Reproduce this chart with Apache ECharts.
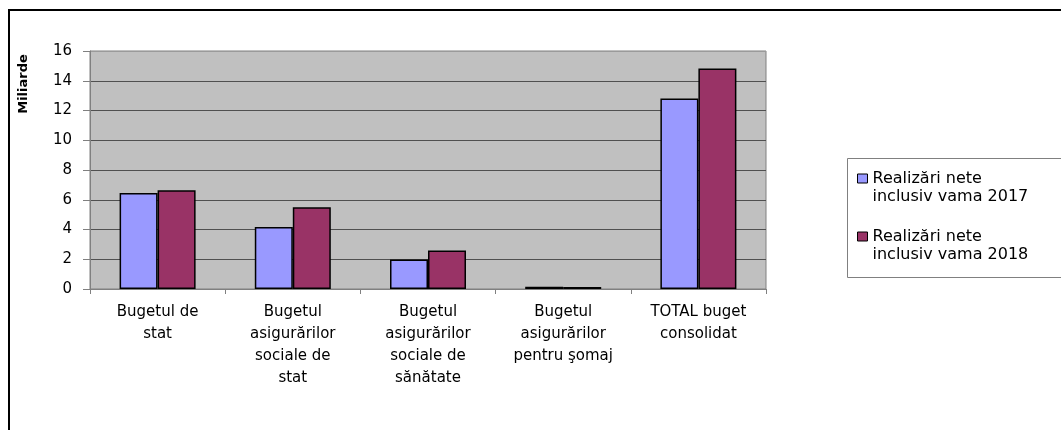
<!DOCTYPE html>
<html>
<head>
<meta charset="utf-8">
<script src="https://cdn.jsdelivr.net/npm/echarts@6/dist/echarts.min.js"></script>
<style>
    html, body { margin: 0; padding: 0; background: #fff; }
    #chart { width: 1061px; height: 430px; }
</style>
</head>
<body>
<div id="chart"></div>
<script>
var categories = [
    'Bugetul de\nstat',
    'Bugetul\nasigurărilor\nsociale de\nstat',
    'Bugetul\nasigurărilor\nsociale de\nsănătate',
    'Bugetul\nasigurărilor\npentru şomaj',
    'TOTAL buget\nconsolidat'
];
var vama2017 = [6.45, 4.17, 1.98, 0.15, 12.8];
var vama2018 = [6.64, 5.49, 2.58, 0.14, 14.82];
var seriesNames = ['Realizări nete\ninclusiv vama 2017', 'Realizări nete\ninclusiv vama 2018'];
var yTicks = [0, 2, 4, 6, 8, 10, 12, 14, 16];

(function () {
    var font = 'DejaVu Sans';
    var myChart = echarts.init(document.getElementById('chart'));

    // darker grid lines, the top one (16) lighter like the plot border
    var gridColors = yTicks.map(function (v, i) {
        return i === yTicks.length - 1 ? '#9a9a9a' : '#505050';
    });

    myChart.setOption({
        animation: false,
        backgroundColor: '#fff',
        textStyle: { fontFamily: font },
        graphic: [
            {
                type: 'rect',
                shape: { x: 9, y: 10, width: 1200, height: 600 },
                style: { fill: 'none', stroke: '#000', lineWidth: 2 }
            },
            {
                type: 'rect',
                shape: { x: 847.5, y: 158.5, width: 300, height: 119 },
                style: { fill: 'none', stroke: '#808080', lineWidth: 1 }
            },
            {
                type: 'text',
                x: 24,
                y: 84,
                rotation: Math.PI / 2,
                style: {
                    text: 'Miliarde',
                    fontFamily: font,
                    fontWeight: 'bold',
                    fontSize: 13,
                    fill: '#000',
                    textAlign: 'center',
                    textVerticalAlign: 'middle'
                }
            }
        ],
        grid: {
            left: 90,
            right: 295,
            top: 51,
            bottom: 141,
            show: true,
            backgroundColor: '#c0c0c0',
            borderColor: '#808080',
            borderWidth: 1
        },
        legend: {
            orient: 'vertical',
            left: 857,
            top: 151.5,
            padding: 0,
            itemGap: 4,
            itemWidth: 10,
            itemHeight: 9,
            icon: 'rect',
            itemStyle: { borderColor: '#000', borderWidth: 1 },
            // blank first line so the icon sits beside the first text line
            formatter: function (name) {
                return ' \n' + name;
            },
            textStyle: {
                fontFamily: font,
                fontSize: 16,
                lineHeight: 18,
                color: '#000'
            },
            data: seriesNames
        },
        xAxis: {
            type: 'category',
            data: categories,
            axisLine: { lineStyle: { color: '#808080', width: 1 } },
            axisTick: { show: true, length: 5, lineStyle: { color: '#808080' } },
            axisLabel: {
                fontFamily: font,
                fontSize: 15,
                lineHeight: 22,
                color: '#000',
                margin: 12,
                interval: 0
            },
            splitLine: { show: false }
        },
        yAxis: {
            type: 'value',
            min: 0,
            max: 16,
            interval: 2,
            axisLine: { show: true, lineStyle: { color: '#808080', width: 1 } },
            axisTick: { show: true, length: 7, lineStyle: { color: '#808080' } },
            axisLabel: {
                fontFamily: font,
                fontSize: 15,
                color: '#000',
                margin: 18
            },
            splitLine: { show: true, lineStyle: { color: gridColors, width: 1 } }
        },
        series: [
            {
                name: seriesNames[0],
                type: 'bar',
                data: vama2017,
                barWidth: 38,
                barGap: '0%',
                itemStyle: { color: '#9999ff', borderColor: '#000', borderWidth: 1.5 }
            },
            {
                name: seriesNames[1],
                type: 'bar',
                data: vama2018,
                barWidth: 38,
                barGap: '0%',
                itemStyle: { color: '#993366', borderColor: '#000', borderWidth: 1.5 }
            }
        ]
    });
})();
</script>
</body>
</html>
